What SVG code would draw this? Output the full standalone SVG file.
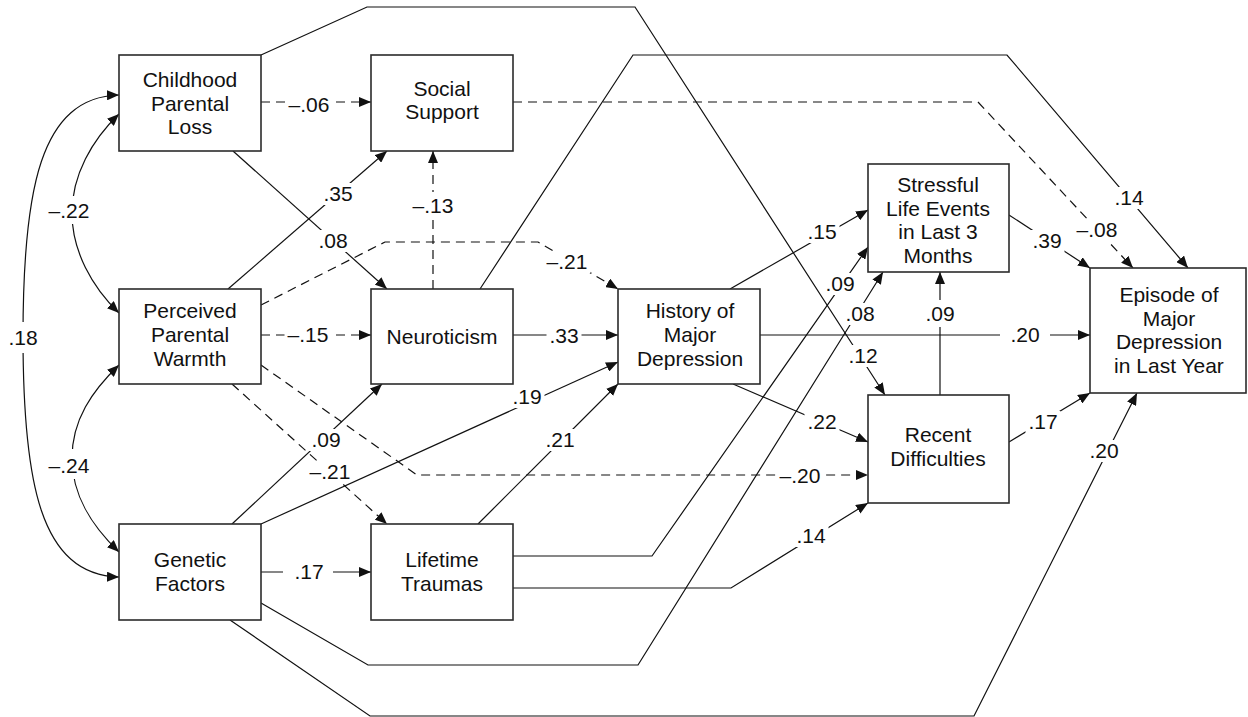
<svg xmlns="http://www.w3.org/2000/svg" width="1248" height="717" viewBox="0 0 1248 717">
  <defs>
    <marker id="arrow" viewBox="0 0 12 10" refX="12" refY="5" markerWidth="12" markerHeight="10" markerUnits="userSpaceOnUse" orient="auto-start-reverse">
      <path d="M0,0 L12,5 L0,10 z" fill="#111"/>
    </marker>
  </defs>
  <style>
    .box{fill:#fff;stroke:#2b2b2b;stroke-width:1.6}
    text{font-family:"Liberation Sans",Arial,Helvetica,sans-serif;font-size:21px;fill:#111;text-anchor:middle}
    .edge{fill:none;stroke:#111;stroke-width:1.2;marker-end:url(#arrow)}
    .cov{marker-start:url(#arrow)}
    .dash{stroke-dasharray:9 6}
    .bg{fill:#fff}
  </style>
  <rect width="1248" height="717" fill="#fff"/>

  <!-- paths between constructs -->
  <g id="connectors">
    <!-- correlations among exogenous factors -->
    <path class="edge cov" d="M119,95 C40,97 23,190 23,336 C23,482 40,575 119,577"/>
    <path class="edge cov" d="M119,114 C92,140 72,175 72,213 C72,251 92,287 119,313"/>
    <path class="edge cov" d="M119,365 C92,391 72,420 72,458 C72,496 92,526 119,552"/>

    <path class="edge dash" d="M261,102 H371"/>
    <path class="edge" d="M233,151 L387,289"/>
    <path class="edge" d="M228,289 L387,151"/>
    <path class="edge dash" d="M433,289 V151"/>
    <path class="edge dash" d="M261,305 L385,242 H538 L618,289"/>
    <path class="edge dash" d="M261,335 H371"/>
    <path class="edge dash" d="M261,365 L417,475 H868"/>
    <path class="edge dash" d="M232,384 L387,524"/>
    <path class="edge" d="M232,524 L382,384"/>
    <path class="edge" d="M261,524 L618,362"/>
    <path class="edge" d="M478,524 L618,384"/>
    <path class="edge" d="M513,335 H618"/>
    <path class="edge" d="M261,572 H371"/>
    <path class="edge" d="M261,55 L367,7 H635 L885,395"/>
    <path class="edge" d="M480,289 L633,55 H1007 L1188,268"/>
    <path class="edge dash" d="M513,102 H978 L1133,268"/>
    <path class="edge" d="M1009,215 L1090,268"/>
    <path class="edge" d="M760,335 H1090"/>
    <path class="edge" d="M730,289 L868,210"/>
    <path class="edge" d="M733,384 L868,442"/>
    <path class="edge" d="M940,395 V272"/>
    <path class="edge" d="M1009,442 L1090,393"/>
    <path class="edge" d="M230,620 L370,716 H974 L1137,393"/>
    <path class="edge" d="M261,603 L368,665 H638 L883,272"/>
    <path class="edge" d="M513,556 H652 L868,247"/>
    <path class="edge" d="M513,588 H731 L868,503"/>
  </g>

  <!-- path coefficients -->
  <g id="labels">
    <rect class="bg" x="285.5" y="94" width="47" height="22"/><text x="309" y="112">–.06</text>
    <rect class="bg" x="45.5" y="196" width="47" height="28"/><text x="69" y="218">–.22</text>
    <rect class="bg" x="320.5" y="183" width="35" height="22"/><text x="338" y="201">.35</text>
    <rect class="bg" x="315.5" y="230" width="35" height="22"/><text x="333" y="248">.08</text>
    <rect class="bg" x="409.5" y="192" width="47" height="27"/><text x="433" y="213">–.13</text>
    <rect class="bg" x="804.5" y="221" width="35" height="22"/><text x="822" y="239">.15</text>
    <rect class="bg" x="5.5" y="322" width="35" height="31"/><text x="23" y="345">.18</text>
    <rect class="bg" x="284.5" y="324" width="47" height="22"/><text x="308" y="342">–.15</text>
    <rect class="bg" x="308.5" y="429" width="35" height="22"/><text x="326" y="447">.09</text>
    <rect class="bg" x="306.5" y="461" width="45" height="21"/><text x="330" y="479">–.21</text>
    <rect class="bg" x="45.5" y="449" width="47" height="30"/><text x="69" y="473">–.24</text>
    <rect class="bg" x="543.5" y="251" width="47" height="22"/><text x="567" y="269">–.21</text>
    <rect class="bg" x="546.5" y="325" width="35" height="22"/><text x="564" y="343">.33</text>
    <rect class="bg" x="509.5" y="386" width="35" height="22"/><text x="527" y="404">.19</text>
    <rect class="bg" x="542.5" y="429" width="35" height="22"/><text x="560" y="447">.21</text>
    <rect class="bg" x="804.5" y="411" width="35" height="22"/><text x="822" y="429">.22</text>
    <rect class="bg" x="776.5" y="465" width="47" height="22"/><text x="800" y="483">–.20</text>
    <rect class="bg" x="1111.5" y="187" width="35" height="22"/><text x="1129" y="205">.14</text>
    <rect class="bg" x="1073.5" y="219" width="47" height="22"/><text x="1097" y="237">–.08</text>
    <rect class="bg" x="1029.5" y="230" width="35" height="22"/><text x="1047" y="248">.39</text>
    <rect class="bg" x="822.5" y="273" width="35" height="22"/><text x="840" y="291">.09</text>
    <rect class="bg" x="842.5" y="303" width="35" height="22"/><text x="860" y="321">.08</text>
    <rect class="bg" x="845.5" y="345" width="35" height="22"/><text x="863" y="363">.12</text>
    <rect class="bg" x="922.5" y="300" width="35" height="27"/><text x="940" y="321">.09</text>
    <rect class="bg" x="1000" y="324" width="50" height="22"/><text x="1025" y="342">.20</text>
    <rect class="bg" x="1025.5" y="411" width="35" height="22"/><text x="1043" y="429">.17</text>
    <rect class="bg" x="1086.5" y="440" width="35" height="22"/><text x="1104" y="458">.20</text>
    <rect class="bg" x="283" y="561" width="50" height="22"/><text x="309" y="579">.17</text>
    <rect class="bg" x="793.5" y="525" width="35" height="22"/><text x="811" y="543">.14</text>
  </g>

  <!-- constructs -->
  <g id="childhood-parental-loss">
    <rect class="box" x="119" y="55" width="142" height="96"/>
    <text x="190" y="87">Childhood</text>
    <text x="190" y="111">Parental</text>
    <text x="190" y="134">Loss</text>
  </g>
  <g id="social-support">
    <rect class="box" x="371" y="55" width="142" height="96"/>
    <text x="442" y="96">Social</text>
    <text x="442" y="119">Support</text>
  </g>
  <g id="perceived-parental-warmth">
    <rect class="box" x="119" y="289" width="142" height="95"/>
    <text x="190" y="318">Perceived</text>
    <text x="190" y="342">Parental</text>
    <text x="190" y="366">Warmth</text>
  </g>
  <g id="neuroticism">
    <rect class="box" x="371" y="289" width="142" height="95"/>
    <text x="442" y="344">Neuroticism</text>
  </g>
  <g id="history-major-depression">
    <rect class="box" x="618" y="289" width="142" height="95"/>
    <text x="690" y="318">History of</text>
    <text x="690" y="342">Major</text>
    <text x="690" y="366">Depression</text>
  </g>
  <g id="genetic-factors">
    <rect class="box" x="119" y="524" width="142" height="96"/>
    <text x="190" y="567">Genetic</text>
    <text x="190" y="591">Factors</text>
  </g>
  <g id="lifetime-traumas">
    <rect class="box" x="371" y="524" width="142" height="96"/>
    <text x="442" y="567">Lifetime</text>
    <text x="442" y="591">Traumas</text>
  </g>
  <g id="stressful-life-events">
    <rect class="box" x="868" y="164" width="141" height="108"/>
    <text x="938" y="192">Stressful</text>
    <text x="938" y="216">Life Events</text>
    <text x="938" y="239">in Last 3</text>
    <text x="938" y="263">Months</text>
  </g>
  <g id="recent-difficulties">
    <rect class="box" x="868" y="395" width="141" height="108"/>
    <text x="938" y="442">Recent</text>
    <text x="938" y="466">Difficulties</text>
  </g>
  <g id="episode-last-year">
    <rect class="box" x="1090" y="268" width="156" height="125"/>
    <text x="1169" y="302">Episode of</text>
    <text x="1169" y="326">Major</text>
    <text x="1169" y="349">Depression</text>
    <text x="1169" y="373">in Last Year</text>
  </g>
</svg>
